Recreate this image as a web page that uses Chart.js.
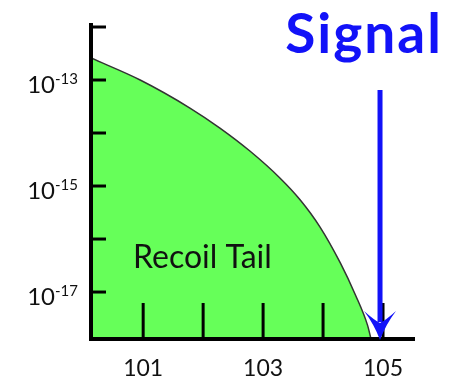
<!DOCTYPE html>
<html>
<head>
<meta charset="utf-8">
<script src="https://cdn.jsdelivr.net/npm/chart.js@4/dist/chart.umd.min.js"></script>
<style>
  html, body { margin: 0; padding: 0; background: #fff; }
  #wrap { width: 456px; height: 381px; position: relative; }
</style>
</head>
<body>
<div id="wrap"><canvas id="chart"></canvas></div>
<script>
// Recoil tail vs. signal
const tailX = [100.13, 100.95, 101.78, 102.28, 102.78, 103.28, 103.62, 103.95, 104.29, 104.54, 104.74, 104.80];
const tailY = [2.6e-13, 1.0e-13, 2.96e-14, 1.24e-14, 4.57e-15, 1.42e-15, 5.45e-16, 1.68e-16, 3.5e-17, 8.8e-18, 2.4e-18, 1.3e-18];

const xTicks = [101, 102, 103, 104, 105];
const xTickLabels = ['101', '', '103', '', '105'];
const yTickExps = [-12, -13, -14, -15, -16, -17];
const yLabelExps = [-13, -15, -17];

const signalX = 104.95;
const signalLabel = 'Signal';
const tailLabel = 'Recoil Tail';

const points = tailX.map((x, i) => ({ x: x, y: tailY[i] }));

// axes, ticks, labels and the signal arrow
const sketchAxes = {
    id: 'sketchAxes',
    afterDatasetsDraw(chart) {
        const ctx = chart.ctx;
        const area = chart.chartArea;
        const xs = chart.scales.x;
        const ys = chart.scales.y;
        ctx.save();
        ctx.strokeStyle = '#000';
        ctx.fillStyle = '#111';

        // y ticks
        ctx.lineWidth = 3;
        yTickExps.forEach(e => {
            const py = ys.getPixelForValue(Math.pow(10, e));
            ctx.beginPath();
            ctx.moveTo(area.left, py);
            ctx.lineTo(area.left + 15, py);
            ctx.stroke();
        });
        // x ticks
        xTicks.forEach(v => {
            const px = xs.getPixelForValue(v);
            ctx.beginPath();
            ctx.moveTo(px, area.bottom);
            ctx.lineTo(px, area.bottom - 36);
            ctx.stroke();
        });

        // axis lines
        ctx.lineWidth = 4;
        ctx.lineCap = 'square';
        ctx.beginPath();
        ctx.moveTo(area.left, area.top - 2);
        ctx.lineTo(area.left, area.bottom);
        ctx.lineTo(area.right, area.bottom);
        ctx.stroke();

        // y labels 10^n
        yLabelExps.forEach(e => {
            const py = ys.getPixelForValue(Math.pow(10, e));
            const sup = String(e);
            ctx.font = '15px Lato';
            const supW = ctx.measureText(sup).width;
            ctx.textAlign = 'right';
            ctx.textBaseline = 'alphabetic';
            ctx.fillText(sup, 78, py + 4);
            ctx.font = '24px Lato';
            ctx.fillText('10', 78 - supW, py + 13);
        });

        // x labels
        ctx.font = '23px Lato';
        ctx.textAlign = 'center';
        xTicks.forEach((v, i) => {
            if (!xTickLabels[i]) return;
            ctx.fillText(xTickLabels[i], xs.getPixelForValue(v), 376);
        });

        // recoil tail label
        ctx.font = '32px Lato';
        ctx.textAlign = 'left';
        ctx.fillText(tailLabel, 133, 268);

        // signal arrow
        const ax = xs.getPixelForValue(signalX);
        const tip = area.bottom + 1;
        ctx.strokeStyle = '#1212f8';
        ctx.fillStyle = '#1212f8';
        ctx.lineWidth = 5;
        ctx.lineCap = 'butt';
        ctx.beginPath();
        ctx.moveTo(ax, 90);
        ctx.lineTo(ax, tip - 18);
        ctx.stroke();
        ctx.beginPath();
        ctx.moveTo(ax, tip);
        ctx.quadraticCurveTo(ax - 6, tip - 16, ax - 16, tip - 29);
        ctx.quadraticCurveTo(ax - 6, tip - 20, ax, tip - 17);
        ctx.quadraticCurveTo(ax + 6, tip - 20, ax + 16, tip - 29);
        ctx.quadraticCurveTo(ax + 6, tip - 16, ax, tip);
        ctx.closePath();
        ctx.fill();

        ctx.font = 'bold 55px Lato';
        ctx.letterSpacing = '2px';
        ctx.textAlign = 'center';
        ctx.fillText(signalLabel, 364, 53);
        ctx.restore();
    }
};

new Chart(document.getElementById('chart'), {
    type: 'line',
    data: {
        datasets: [{
            data: points,
            borderColor: '#333',
            borderWidth: 1.5,
            backgroundColor: '#66ff59',
            fill: 'start',
            pointRadius: 0,
            cubicInterpolationMode: 'monotone'
        }]
    },
    options: {
        responsive: true,
        maintainAspectRatio: false,
        animation: false,
        layout: { padding: { left: 91, right: 43, top: 27, bottom: 42 } },
        plugins: { legend: { display: false }, tooltip: { enabled: false } },
        scales: {
            x: { type: 'linear', min: 100.13, max: 105.5, display: false },
            y: { type: 'logarithmic', min: 1.3e-18, max: 1e-12, display: false }
        }
    },
    plugins: [sketchAxes]
});
</script>
</body>
</html>
